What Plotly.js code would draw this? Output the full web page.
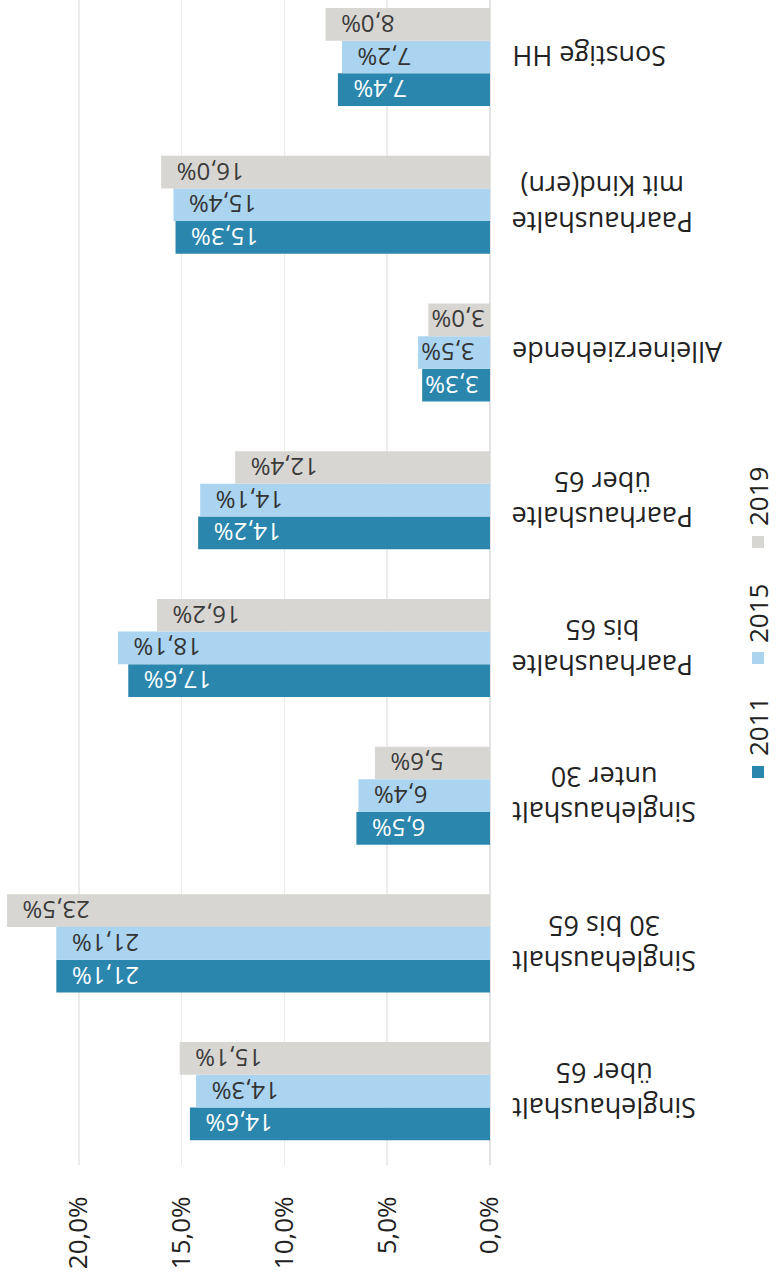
<!DOCTYPE html>
<html>
<head>
<meta charset="utf-8">
<script src="https://cdn.plot.ly/plotly-3.0.1.min.js"></script>
<style>
  html, body { margin: 0; padding: 0; background: #ffffff; }
  #chart { width: 777px; height: 1281px; }
</style>
</head>
<body>
<div id="chart"></div>
<script>
// Data (categories bottom to top)
const categories = [
  "Singlehaushalt<br>über 65",
  "Singlehaushalt<br>30 bis 65",
  "Singlehaushalt<br>unter 30",
  "Paarhaushalte<br>bis 65",
  "Paarhaushalte<br>über 65",
  "Alleinerziehende",
  "Paarhaushalte<br>mit Kind(ern)",
  "Sonstige HH"
];
const years = ["2011", "2015", "2019"];
const values2011 = [14.6, 21.1, 6.5, 17.6, 14.2, 3.3, 15.3, 7.4];
const values2015 = [14.3, 21.1, 6.4, 18.1, 14.1, 3.5, 15.4, 7.2];
const values2019 = [15.1, 23.5, 5.6, 16.2, 12.4, 3.0, 16.0, 8.0];
const tickValues = [0, 5, 10, 15, 20];

const colors = ["#2a86ad", "#aad4f0", "#d8d6d2"];
const textColors = ["#ffffff", "#333333", "#3a3a3a"];
const series = [values2011, values2015, values2019];
const FONT = "Open Sans, Noto Sans, sans-serif";

const fmt = (v) => v.toFixed(1).replace(".", ",") + "%";
const tickText = tickValues.map(fmt);

// plot area geometry in pixels (for paper-referenced legend)
const PLOT_W = 490, PLOT_H = 1165;
const px2x = (px) => px / PLOT_W;
const py2y = (py) => (PLOT_H - py) / PLOT_H;

const traces = series.map((vals, i) => ({
  type: "bar",
  orientation: "h",
  name: years[i],
  y: categories.map((c, k) => k),
  x: vals,
  marker: { color: colors[i] },
  text: vals.map(v => fmt(v) + (v >= 5 ? "\u00A0\u00A0" : "")),
  texttemplate: "%{text}",
  textposition: "inside",
  insidetextanchor: "end",
  textangle: 180,
  constraintext: "none",
  insidetextfont: { family: FONT, size: 24, color: textColors[i] },
  hoverinfo: "none",
  showlegend: false
}));

const annotations = categories.map((c, k) => ({
  xref: "paper", yref: "y",
  x: 1, y: k,
  xshift: 20,
  xanchor: "left", yanchor: "middle",
  text: c,
  textangle: 180,
  align: "center",
  showarrow: false,
  font: { family: FONT, size: 27, color: "#222222" }
}));

// legend (rotated, reading upward)
const legendTextY = [727, 614, 497];
const legendBoxY = [772, 658, 542];
const shapes = [];
years.forEach((y, i) => {
  annotations.push({
    xref: "paper", yref: "paper",
    x: px2x(758), y: py2y(legendTextY[i]),
    xanchor: "center", yanchor: "middle",
    text: y,
    textangle: -90,
    borderpad: 0,
    showarrow: false,
    font: { family: FONT, size: 26, color: "#222222" }
  });
  shapes.push({
    type: "rect", xref: "paper", yref: "paper",
    x0: px2x(752), x1: px2x(764),
    y0: py2y(legendBoxY[i] + 6), y1: py2y(legendBoxY[i] - 6),
    fillcolor: colors[i], line: { width: 0 }
  });
});

const layout = {
  width: 777, height: 1281,
  margin: { l: 0, r: 287, t: 0, b: 116 },
  paper_bgcolor: "#ffffff",
  plot_bgcolor: "#ffffff",
  separators: ",.",
  barmode: "group",
  bargap: 0.336,
  bargroupgap: 0,
  xaxis: {
    range: [23.84, 0],
    tickmode: "array",
    tickvals: tickValues,
    ticktext: tickText,
    tickangle: -90,
    ticks: "outside",
    ticklen: 20,
    tickcolor: "rgba(0,0,0,0)",
    showgrid: true,
    gridcolor: "#ebebeb",
    gridwidth: 1.5,
    zeroline: true,
    zerolinecolor: "#e3e3e3",
    zerolinewidth: 1.5,
    showline: false,
    tickfont: { family: FONT, size: 26, color: "#222222" },
    fixedrange: true
  },
  yaxis: {
    range: [-0.5, 7.386],
    showticklabels: false,
    showgrid: false,
    zeroline: false,
    showline: false,
    fixedrange: true
  },
  annotations: annotations,
  shapes: shapes,
  showlegend: false
};

Plotly.newPlot("chart", traces, layout, { displayModeBar: false, staticPlot: true });
</script>
</body>
</html>
